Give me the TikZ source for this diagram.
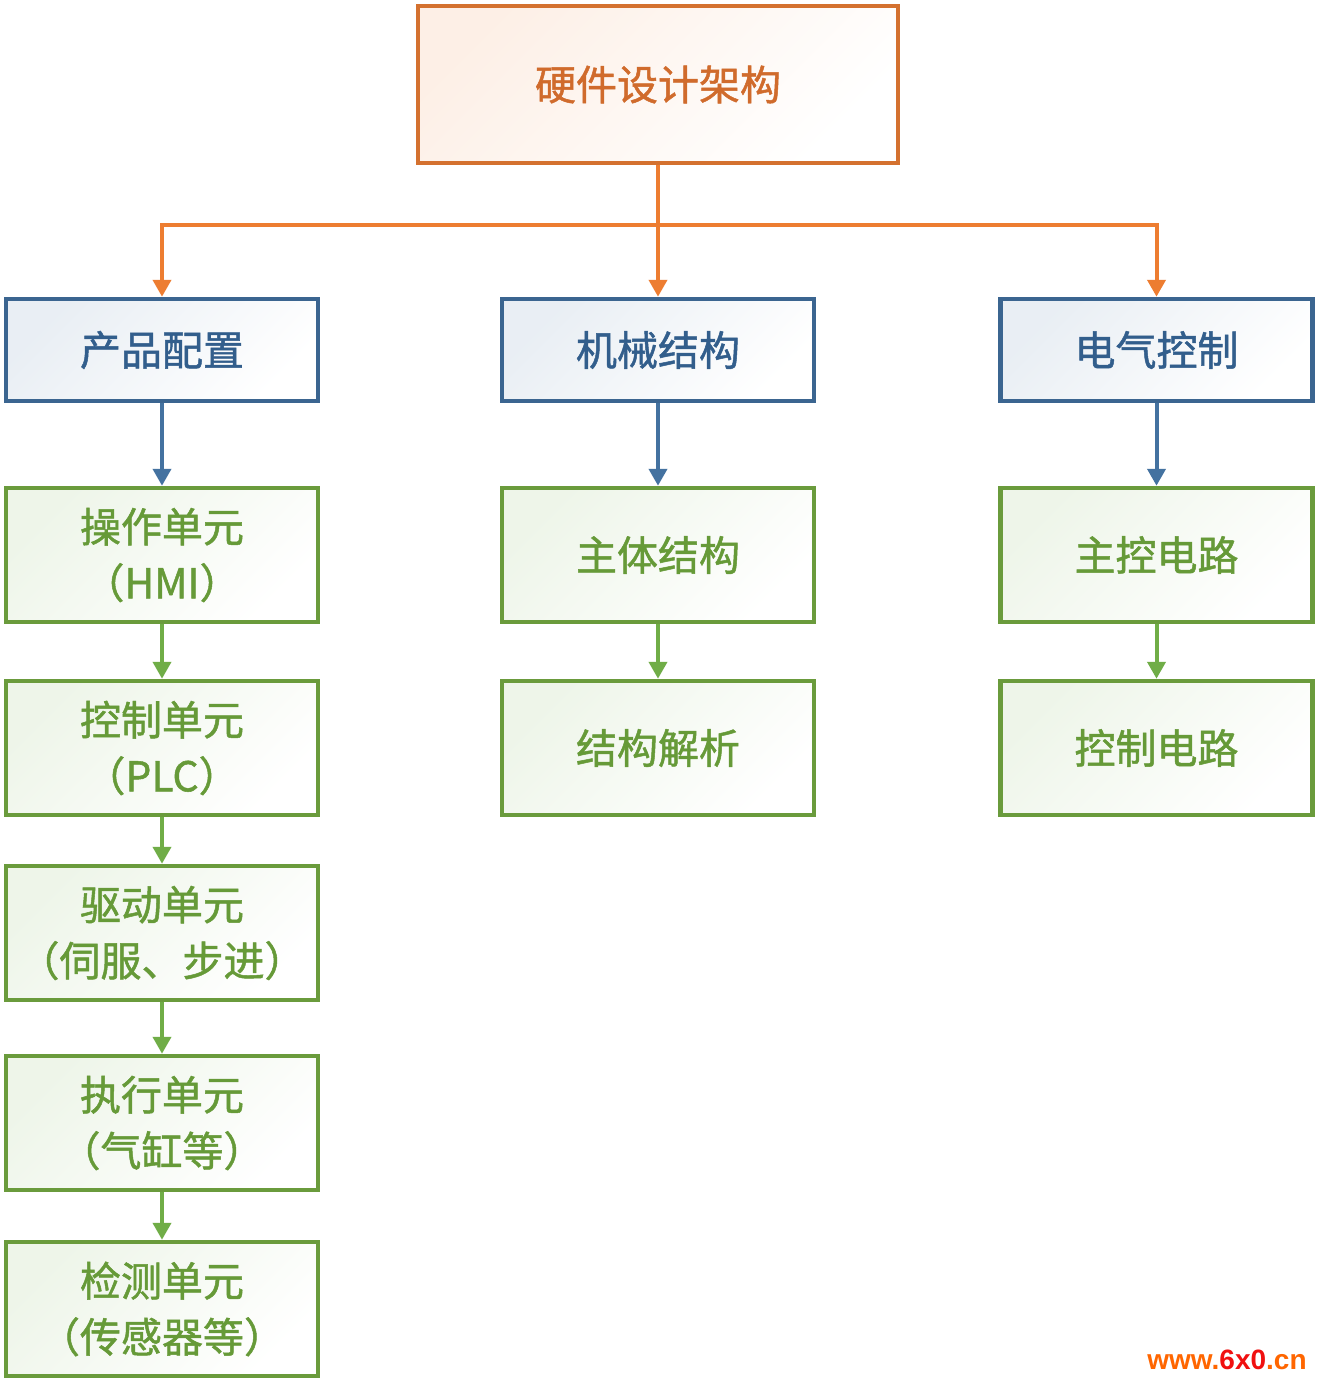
\documentclass[tikz,border=0pt]{standalone}
\usepackage{fontspec}
\newfontfamily\cjk[RawFeature={embolden=1.2}]{Noto Sans CJK SC}
\newfontfamily\wm{Liberation Sans}
\usetikzlibrary{arrows.meta}
\definecolor{obord}{HTML}{D4712F}
\definecolor{otext}{HTML}{D06B2C}
\definecolor{oline}{HTML}{ED7D31}
\definecolor{bbord}{HTML}{3B6590}
\definecolor{btext}{HTML}{325E8C}
\definecolor{bline}{HTML}{4472A0}
\definecolor{gbord}{HTML}{6A9B3C}
\definecolor{gtext}{HTML}{669A38}
\definecolor{gline}{HTML}{70AD47}
\definecolor{wmorange}{HTML}{FF6600}
\definecolor{wmred}{HTML}{F01010}
\tikzset{
  boxbase/.style={rectangle, line width=4.5pt, align=center, inner sep=0pt,
    font=\cjk\fontsize{41pt}{56pt}\selectfont},
  topbox/.style={boxbase, draw=obord, text=otext, shade, top color=oline!12, bottom color=white, shading angle=45,
    minimum width=480pt, minimum height=157pt},
  bluebox/.style={boxbase, draw=bbord, text=btext, shade, top color=bline!12, bottom color=white, shading angle=45,
    minimum width=312pt, minimum height=102pt},
  greenbox/.style={boxbase, draw=gbord, text=gtext, shade, top color=gline!12, bottom color=white, shading angle=45,
    minimum width=312pt, minimum height=134pt},
  oarr/.style={draw=oline, line width=4pt, -{Triangle[width=18pt,length=17pt]}},
  barr/.style={draw=bline, line width=4pt, -{Triangle[width=18pt,length=17pt]}},
  garr/.style={draw=gline, line width=4pt, -{Triangle[width=18pt,length=17pt]}},
}
\begin{document}
\begin{tikzpicture}[x=1pt,y=-1pt]
\useasboundingbox (0,0) rectangle (1320,1383);
\fill[white] (0,0) rectangle (1320,1383);

\node[topbox] (top) at (658,84.5) {硬件设计架构};

\node[bluebox] (b1) at (162,350) {产品配置};
\node[bluebox] (b2) at (658,350) {机械结构};
\node[bluebox] (b3) at (1156.5,350) {电气控制};

\node[greenbox] (g11) at (162,555) {操作单元\\（HMI）};
\node[greenbox] (g12) at (162,748) {控制单元\\（PLC）};
\node[greenbox] (g13) at (162,933) {驱动单元\\（伺服、步进）};
\node[greenbox] (g14) at (162,1123) {执行单元\\（气缸等）};
\node[greenbox] (g15) at (162,1309) {检测单元\\（传感器等）};

\node[greenbox] (g21) at (658,555) {主体结构};
\node[greenbox] (g22) at (658,748) {结构解析};

\node[greenbox] (g31) at (1156.5,555) {主控电路};
\node[greenbox] (g32) at (1156.5,748) {控制电路};

\coordinate (hub) at (658,225);
\draw[oarr] (top.south) -- (b2.north);
\draw[oarr] (hub) -| (b1.north);
\draw[oarr] (hub) -| (b3.north);

\draw[barr] (b1.south) -- (g11.north);
\draw[barr] (b2.south) -- (g21.north);
\draw[barr] (b3.south) -- (g31.north);

\draw[garr] (g11.south) -- (g12.north);
\draw[garr] (g12.south) -- (g13.north);
\draw[garr] (g13.south) -- (g14.north);
\draw[garr] (g14.south) -- (g15.north);
\draw[garr] (g21.south) -- (g22.north);
\draw[garr] (g31.south) -- (g32.north);

\node[anchor=center, inner sep=0pt, font=\wm\bfseries\fontsize{28pt}{28pt}\selectfont] (wmark) at (1227,1360)
  {\textcolor{wmorange}{www.}\textcolor{wmred}{6x0}\textcolor{wmorange}{.cn}};
\end{tikzpicture}
\end{document}
